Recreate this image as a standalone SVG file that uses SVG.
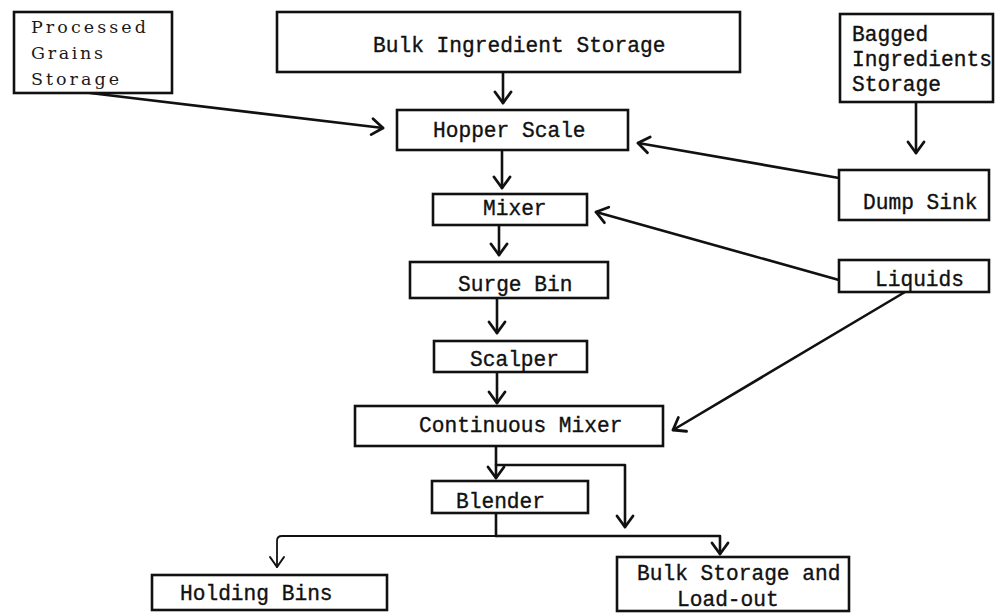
<svg xmlns="http://www.w3.org/2000/svg" width="996" height="613" viewBox="0 0 996 613">
<defs>
<style>
.box{fill:#fff;stroke:#111;stroke-width:2.6}
.t{font-family:"Liberation Mono","DejaVu Sans Mono",monospace;font-size:21.2px;fill:#111;stroke:#111;stroke-width:0.35}
.ts{font-family:"DejaVu Serif","Liberation Serif",serif;font-size:17.5px;fill:#1a1a1a}
.c{fill:none;stroke:#111;stroke-width:2.6;stroke-linejoin:round;stroke-linecap:round}
.thin{stroke-width:1.8}
</style>
<marker id="ah" markerUnits="userSpaceOnUse" markerWidth="30" markerHeight="30" viewBox="-15 -15 30 30" refX="0" refY="0" orient="auto" overflow="visible">
<path d="M-11,-8 L0,0 L-11,8" fill="none" stroke="#111" stroke-width="2.8" stroke-linecap="round" stroke-linejoin="round"/>
</marker>
<marker id="ahs" markerUnits="userSpaceOnUse" markerWidth="30" markerHeight="30" viewBox="-15 -15 30 30" refX="0" refY="0" orient="auto" overflow="visible">
<path d="M-10,-7 L0,0 L-10,7" fill="none" stroke="#111" stroke-width="2" stroke-linecap="round" stroke-linejoin="round"/>
</marker>
</defs>
<rect width="996" height="613" fill="#fff"/>

<g id="connectors">
<path class="c" d="M503,72 L503,103" marker-end="url(#ah)"/>
<path class="c" d="M90,93 L383,128" marker-end="url(#ah)"/>
<path class="c" d="M916,102 L916,153" marker-end="url(#ah)"/>
<path class="c" d="M839,178 L638,143" marker-end="url(#ah)"/>
<path class="c" d="M502,150 L502,188" marker-end="url(#ah)"/>
<path class="c" d="M839,280 L596,212" marker-end="url(#ah)"/>
<path class="c" d="M499,225 L499,255" marker-end="url(#ah)"/>
<path class="c" d="M497,298 L497,333" marker-end="url(#ah)"/>
<path class="c" d="M497,372 L497,403" marker-end="url(#ah)"/>
<path class="c" d="M905,292 L673,430" marker-end="url(#ah)"/>
<path class="c" d="M496,446 L496,478" marker-end="url(#ah)"/>
<path class="c" d="M496,465 L625,465 L625,527" marker-end="url(#ah)"/>
<path class="c" d="M496,513 L496,536"/>
<path class="c thin" d="M496,536 L282,536 Q277,536 277,541 L277,567" marker-end="url(#ahs)"/>
<path class="c" d="M496,536 L720,536 L720,554" marker-end="url(#ah)"/>
</g>

<g id="processed-grains-storage">
<rect class="box" x="14" y="12" width="158" height="81"/>
<text class="ts" x="31" y="33" textLength="115">Processed</text>
<text class="ts" x="31" y="59" textLength="72">Grains</text>
<text class="ts" x="31" y="85" textLength="88">Storage</text>
</g>

<g id="bulk-ingredient-storage">
<rect class="box" x="277" y="12" width="463" height="60"/>
<text class="t" x="373" y="52">Bulk Ingredient Storage</text>
</g>

<g id="bagged-ingredients-storage">
<rect class="box" x="840" y="14" width="153" height="88"/>
<text class="t" x="852" y="41">Bagged</text>
<text class="t" x="852" y="66">Ingredients</text>
<text class="t" x="852" y="91">Storage</text>
</g>

<g id="hopper-scale">
<rect class="box" x="397" y="110" width="231" height="40"/>
<text class="t" x="433" y="137">Hopper Scale</text>
</g>

<g id="dump-sink">
<rect class="box" x="839" y="170" width="150" height="50"/>
<text class="t" x="863" y="209">Dump Sink</text>
</g>

<g id="mixer">
<rect class="box" x="433" y="194" width="154" height="31"/>
<text class="t" x="483" y="215">Mixer</text>
</g>

<g id="surge-bin">
<rect class="box" x="410" y="262" width="198" height="36"/>
<text class="t" x="458" y="291">Surge Bin</text>
</g>

<g id="liquids">
<rect class="box" x="839" y="260" width="150" height="32"/>
<text class="t" x="875" y="286">Liquids</text>
</g>

<g id="scalper">
<rect class="box" x="434" y="341" width="153" height="31"/>
<text class="t" x="470" y="366">Scalper</text>
</g>

<g id="continuous-mixer">
<rect class="box" x="355" y="406" width="308" height="40"/>
<text class="t" x="419" y="432">Continuous Mixer</text>
</g>

<g id="blender">
<rect class="box" x="432" y="481" width="156" height="32"/>
<text class="t" x="456" y="508">Blender</text>
</g>

<g id="holding-bins">
<rect class="box" x="152" y="575" width="235" height="35"/>
<text class="t" x="180" y="600">Holding Bins</text>
</g>

<g id="bulk-storage-load-out">
<rect class="box" x="617" y="557" width="232" height="54"/>
<text class="t" x="637" y="580">Bulk Storage and</text>
<text class="t" x="677" y="606">Load-out</text>
</g>
</svg>
